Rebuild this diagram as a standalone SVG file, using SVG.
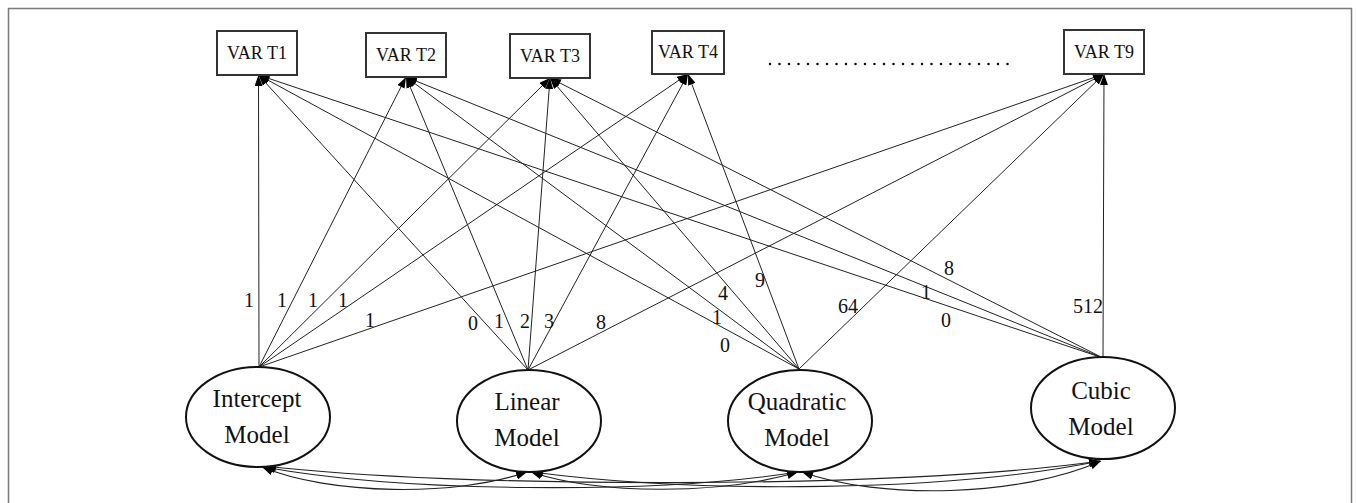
<svg xmlns="http://www.w3.org/2000/svg" width="1356" height="503" viewBox="0 0 1356 503">
  <defs>
    <marker id="arrow" viewBox="0 0 11 8" refX="11" refY="4" markerWidth="11" markerHeight="8" markerUnits="userSpaceOnUse" orient="auto-start-reverse">
      <path d="M0,0 L11,4 L0,8 z" fill="#000"/>
    </marker>
  </defs>
  <style>
    .frame { fill: none; stroke: #7a7a7a; stroke-width: 1.5; }
    .box { fill: #fff; stroke: #333; stroke-width: 2; }
    .latent { fill: #fff; stroke: #111; stroke-width: 2; }
    .edge { fill: none; stroke: #222; stroke-width: 1; marker-end: url(#arrow); }
    .cov { fill: none; stroke: #222; stroke-width: 1.1; marker-start: url(#arrow); marker-end: url(#arrow); }
    .dots { fill: none; stroke: #111; stroke-width: 2.6; stroke-linecap: round; stroke-dasharray: 0 9.5; }
    text { font-family: "Liberation Serif", "Times New Roman", serif; fill: #111; text-anchor: middle; }
    .boxlabel { font-size: 18px; }
    .nodelabel { font-size: 25px; }
    .weight { font-size: 20px; }
  </style>

  <rect class="frame" x="8.5" y="8.5" width="1343" height="600"/>

  <!-- loadings from growth factors to the repeated measures -->
  <g id="connectors">
    <!-- intercept -->
    <line class="edge" x1="259" y1="367" x2="258.5" y2="75"/>
    <line class="edge" x1="259" y1="367" x2="406" y2="77"/>
    <line class="edge" x1="259" y1="367" x2="550" y2="78"/>
    <line class="edge" x1="259" y1="367" x2="688" y2="74"/>
    <line class="edge" x1="259" y1="367" x2="1104" y2="74"/>
    <!-- linear -->
    <line class="edge" x1="528" y1="370" x2="258.5" y2="75"/>
    <line class="edge" x1="528" y1="370" x2="406" y2="77"/>
    <line class="edge" x1="528" y1="370" x2="550" y2="78"/>
    <line class="edge" x1="528" y1="370" x2="688" y2="74"/>
    <line class="edge" x1="528" y1="370" x2="1104" y2="74"/>
    <!-- quadratic -->
    <line class="edge" x1="799" y1="369" x2="258.5" y2="75"/>
    <line class="edge" x1="799" y1="369" x2="406" y2="77"/>
    <line class="edge" x1="799" y1="369" x2="550" y2="78"/>
    <line class="edge" x1="799" y1="369" x2="688" y2="74"/>
    <line class="edge" x1="799" y1="369" x2="1104" y2="74"/>
    <!-- cubic -->
    <line class="edge" x1="1103" y1="358" x2="258.5" y2="75"/>
    <line class="edge" x1="1103" y1="358" x2="406" y2="77"/>
    <line class="edge" x1="1103" y1="358" x2="550" y2="78"/>
    <line class="edge" x1="1103" y1="358" x2="1104" y2="74"/>

    <!-- covariances between growth factors -->
    <path class="cov" d="M262,467 C330,495 455,497 527,472"/>
    <path class="cov" d="M264,467 C400,492 650,495 798,472"/>
    <path class="cov" d="M265,466 C450,488 900,490 1100,461"/>
    <path class="cov" d="M531,472 C600,495 720,495 798,472"/>
    <path class="cov" d="M532,472 C700,494 950,492 1100,461"/>
    <path class="cov" d="M802,472 C880,500 1020,497 1101,461"/>

    <!-- loading values -->
    <g class="weight">
      <text x="249" y="307">1</text>
      <text x="282" y="307">1</text>
      <text x="313" y="307">1</text>
      <text x="343" y="307">1</text>
      <text x="370" y="327">1</text>

      <text x="473" y="330">0</text>
      <text x="499" y="328">1</text>
      <text x="525" y="328">2</text>
      <text x="549" y="328">3</text>
      <text x="601" y="329">8</text>

      <text x="725" y="352">0</text>
      <text x="717" y="324">1</text>
      <text x="723" y="300">4</text>
      <text x="760" y="287">9</text>
      <text x="848" y="313">64</text>

      <text x="946" y="327">0</text>
      <text x="926" y="299">1</text>
      <text x="949" y="275">8</text>
      <text x="1088" y="313">512</text>
    </g>
  </g>

  <!-- observed measures -->
  <g id="var-t1">
    <rect class="box" x="217" y="31" width="80" height="44"/>
    <text class="boxlabel" x="257" y="59">VAR T1</text>
  </g>
  <g id="var-t2">
    <rect class="box" x="366" y="33" width="80" height="44"/>
    <text class="boxlabel" x="406" y="61">VAR T2</text>
  </g>
  <g id="var-t3">
    <rect class="box" x="510" y="34" width="80" height="44"/>
    <text class="boxlabel" x="550" y="62">VAR T3</text>
  </g>
  <g id="var-t4">
    <rect class="box" x="652" y="31" width="72" height="43"/>
    <text class="boxlabel" x="688" y="58">VAR T4</text>
  </g>
  <line class="dots" x1="770" y1="64" x2="1017" y2="64"/>
  <g id="var-t9">
    <rect class="box" x="1064" y="30" width="80" height="44"/>
    <text class="boxlabel" x="1104" y="58">VAR T9</text>
  </g>

  <!-- growth factors -->
  <g id="intercept-model">
    <ellipse class="latent" cx="258" cy="417" rx="72" ry="50"/>
    <text class="nodelabel" x="257" y="407">Intercept</text>
    <text class="nodelabel" x="257" y="443">Model</text>
  </g>
  <g id="linear-model">
    <ellipse class="latent" cx="529" cy="421" rx="72" ry="51"/>
    <text class="nodelabel" x="527" y="410">Linear</text>
    <text class="nodelabel" x="527" y="446">Model</text>
  </g>
  <g id="quadratic-model">
    <ellipse class="latent" cx="800" cy="421" rx="72" ry="51"/>
    <text class="nodelabel" x="797" y="410">Quadratic</text>
    <text class="nodelabel" x="797" y="446">Model</text>
  </g>
  <g id="cubic-model">
    <ellipse class="latent" cx="1103" cy="408" rx="72" ry="51"/>
    <text class="nodelabel" x="1101" y="399">Cubic</text>
    <text class="nodelabel" x="1101" y="435">Model</text>
  </g>
</svg>
